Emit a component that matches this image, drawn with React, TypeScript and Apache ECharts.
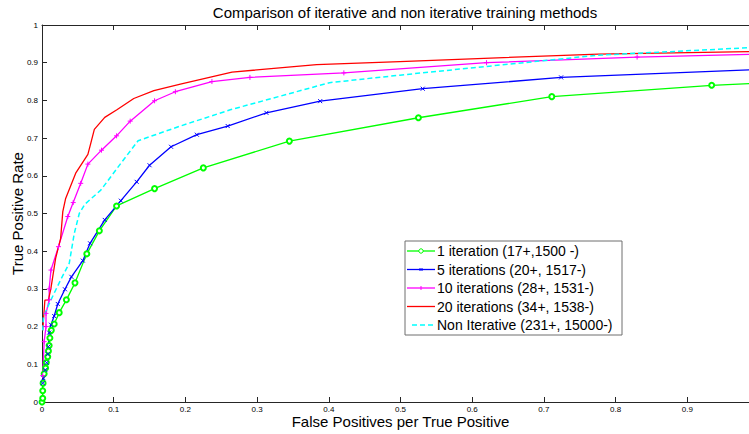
import React, { useEffect, useRef } from "react";
import * as echarts from "echarts";

const titleText = "Comparison of iterative and non iterative training methods";
const xName = "False Positives per True Positive";
const yName = "True Positive Rate";

const seriesNames = [
  "1 iteration (17+,1500 -)",
  "5 iterations (20+, 1517-)",
  "10 iterations (28+, 1531-)",
  "20 iterations (34+, 1538-)",
  "Non Iterative (231+, 15000-)",
];
const seriesColors = ["#00ff00", "#0000ff", "#ff00ff", "#ff0000", "#00ffff"];
const seriesMarkers = ["circle", "x", "plus", "none", "none"];

const greenX = [0, 0.001, 0.001, 0.0015, 0.003, 0.005, 0.006, 0.008, 0.009, 0.010, 0.011, 0.013, 0.017, 0.024, 0.034, 0.046, 0.0625, 0.080, 0.104, 0.157, 0.225, 0.345, 0.525, 0.711, 0.934, 1.0];
const greenY = [0, 0.01, 0.03, 0.05, 0.075, 0.09, 0.105, 0.12, 0.135, 0.15, 0.17, 0.19, 0.207, 0.237, 0.271, 0.316, 0.393, 0.454, 0.520, 0.566, 0.621, 0.692, 0.754, 0.810, 0.840, 0.846];

const blueX = [0.001, 0.002, 0.0046, 0.0065, 0.008, 0.009, 0.010, 0.0125, 0.017, 0.022, 0.032, 0.041, 0.057, 0.067, 0.0875, 0.110, 0.132, 0.150, 0.180, 0.216, 0.259, 0.313, 0.388, 0.531, 0.724, 1.0];
const blueY = [0.05, 0.063, 0.085, 0.104, 0.127, 0.147, 0.184, 0.205, 0.228, 0.260, 0.299, 0.332, 0.375, 0.421, 0.483, 0.534, 0.584, 0.628, 0.677, 0.709, 0.732, 0.767, 0.798, 0.831, 0.861, 0.882];

const magentaX = [0.001, 0.003, 0.0056, 0.0056, 0.010, 0.010, 0.0125, 0.023, 0.036, 0.0435, 0.054, 0.064, 0.083, 0.104, 0.123, 0.157, 0.186, 0.237, 0.290, 0.421, 0.62, 0.83, 1.0];
const magentaY = [0.07, 0.16, 0.20, 0.235, 0.271, 0.30, 0.35, 0.412, 0.492, 0.529, 0.58, 0.631, 0.668, 0.706, 0.745, 0.799, 0.823, 0.850, 0.861, 0.873, 0.900, 0.915, 0.923];

const redX = [0.001, 0.004, 0.009, 0.0125, 0.019, 0.026, 0.029, 0.033, 0.047, 0.064, 0.068, 0.073, 0.0875, 0.105, 0.128, 0.156, 0.193, 0.265, 0.383, 0.499, 0.776, 1.0];
const redY = [0.19, 0.27, 0.271, 0.302, 0.381, 0.434, 0.505, 0.540, 0.607, 0.657, 0.686, 0.723, 0.755, 0.776, 0.805, 0.826, 0.843, 0.875, 0.895, 0.903, 0.923, 0.930];

const cyanX = [0.001, 0.002, 0.0125, 0.026, 0.038, 0.045, 0.052, 0.060, 0.082, 0.110, 0.134, 0.193, 0.2625, 0.401, 0.499, 0.776, 1.0];
const cyanY = [0.19, 0.226, 0.271, 0.324, 0.368, 0.447, 0.50, 0.525, 0.562, 0.633, 0.693, 0.732, 0.775, 0.847, 0.867, 0.920, 0.941];

const zip = (xs: number[], ys: number[]) => xs.map((x, i) => [x, ys[i]]);

const FONT = "'Liberation Sans', Arial, sans-serif";
const AXIS_COLOR = "#262626";
const X_SYMBOL = "path://M0,0L8,8M8,0L0,8";
const PLUS_SYMBOL = "path://M4,0L4,8M0,4L8,4";

function buildLegend() {
  const boxX = 405, boxY = 241, boxW = 217, boxH = 94;
  const rowY0 = 251, rowStep = 18.5;
  const lineX1 = 407, lineX2 = 435, textX = 437;
  const children: any[] = [
    {
      type: "rect",
      shape: { x: boxX, y: boxY, width: boxW, height: boxH },
      style: { fill: "#ffffff", stroke: "#6f6f6f", lineWidth: 1 },
    },
  ];
  seriesNames.forEach((name, i) => {
    const y = rowY0 + i * rowStep;
    const color = seriesColors[i];
    const marker = seriesMarkers[i];
    const dashed = i === 4;
    children.push({
      type: "line",
      shape: { x1: dashed ? lineX1 + 5 : lineX1, y1: y, x2: lineX2, y2: y },
      style: { stroke: color, lineWidth: dashed ? 1.5 : 1.3, lineDash: dashed ? [5, 3] : null },
    });
    const mx = (lineX1 + lineX2) / 2;
    if (marker === "circle") {
      children.push({
        type: "circle",
        shape: { cx: mx, cy: y, r: 2.2 },
        style: { fill: "#ffffff", stroke: color, lineWidth: 1 },
      });
    } else if (marker === "x") {
      children.push(
        { type: "line", shape: { x1: mx - 1.5, y1: y - 1.5, x2: mx + 1.5, y2: y + 1.5 }, style: { stroke: color, lineWidth: 1 } },
        { type: "line", shape: { x1: mx - 1.5, y1: y + 1.5, x2: mx + 1.5, y2: y - 1.5 }, style: { stroke: color, lineWidth: 1 } }
      );
    } else if (marker === "plus") {
      children.push(
        { type: "line", shape: { x1: mx, y1: y - 2, x2: mx, y2: y + 2 }, style: { stroke: color, lineWidth: 1 } }
      );
    }
    children.push({
      type: "text",
      x: textX,
      y,
      style: {
        text: name,
        fill: "#000",
        font: `14px ${FONT}`,
        verticalAlign: "middle",
        align: "left",
      },
    });
  });
  return { type: "group", z: 100, children };
}

export default function App() {
  const ref = useRef<HTMLDivElement>(null);
  useEffect(() => {
    if (!ref.current) return;
    const chart = echarts.init(ref.current, undefined, { renderer: "svg" });
    const axisCommon = {
      type: "value" as const,
      min: 0,
      max: 1,
      interval: 0.1,
      splitLine: { show: false },
      axisLine: { show: true, onZero: false, lineStyle: { color: AXIS_COLOR, width: 1 } },
      axisTick: { show: true, inside: true, length: 5, lineStyle: { color: AXIS_COLOR } },
    };
    const line = (
      name: string,
      xs: number[],
      ys: number[],
      color: string,
      symbol: string,
      symbolSize: number,
      dashed = false
    ) => ({
      name,
      type: "line",
      data: zip(xs, ys),
      symbol,
      symbolSize,
      showSymbol: symbol !== "none",
      lineStyle: { color, width: dashed ? 1.5 : 1.3, type: dashed ? [5, 3] : "solid" },
      itemStyle: { color, borderColor: color, borderWidth: 1 },
      clip: true,
    });
    chart.setOption({
      animation: false,
      backgroundColor: "#ffffff",
      textStyle: { fontFamily: FONT },
      title: {
        text: titleText,
        left: 400,
        top: 0,
        textAlign: "center",
        textStyle: { fontSize: 15, fontWeight: "normal", color: "#000", fontFamily: FONT },
      },
      grid: { left: 42, right: -10, top: 25, bottom: 32, containLabel: false, outerBoundsMode: "none" },
      xAxis: [
        {
          ...axisCommon,
          position: "bottom",
          name: xName,
          nameLocation: "middle",
          nameGap: 12,
          nameMoveOverlap: false,
          nameTextStyle: { fontSize: 15, color: "#000", fontFamily: FONT },
          axisLabel: {
            fontSize: 8,
            color: "#000",
            margin: 3,
            fontFamily: FONT,
            formatter: (v: number) => (v >= 1 ? "" : String(Math.round(v * 10) / 10)),
          },
        },
        {
          ...axisCommon,
          position: "top",
          axisLabel: { show: false },
        },
      ],
      yAxis: [
        {
          ...axisCommon,
          position: "left",
          name: yName,
          nameLocation: "middle",
          nameGap: 17,
          nameMoveOverlap: false,
          nameTextStyle: { fontSize: 15, color: "#000", fontFamily: FONT },
          axisLabel: { fontSize: 8, color: "#000", margin: 4, fontFamily: FONT },
        },
        {
          ...axisCommon,
          position: "right",
          axisLabel: { show: false },
        },
      ],
      graphic: [buildLegend()],
      series: [
        line(seriesNames[0], greenX, greenY, seriesColors[0], "emptyCircle", 5),
        line(seriesNames[1], blueX, blueY, seriesColors[1], X_SYMBOL, 4),
        line(seriesNames[2], magentaX, magentaY, seriesColors[2], PLUS_SYMBOL, 5),
        line(seriesNames[3], redX, redY, seriesColors[3], "none", 0),
        line(seriesNames[4], cyanX, cyanY, seriesColors[4], "none", 0, true),
      ],
    });
    return () => chart.dispose();
  }, []);
  return (
    <div
      ref={ref}
      style={{ position: "absolute", left: 0, top: 0, width: 749, height: 434 }}
    />
  );
}
